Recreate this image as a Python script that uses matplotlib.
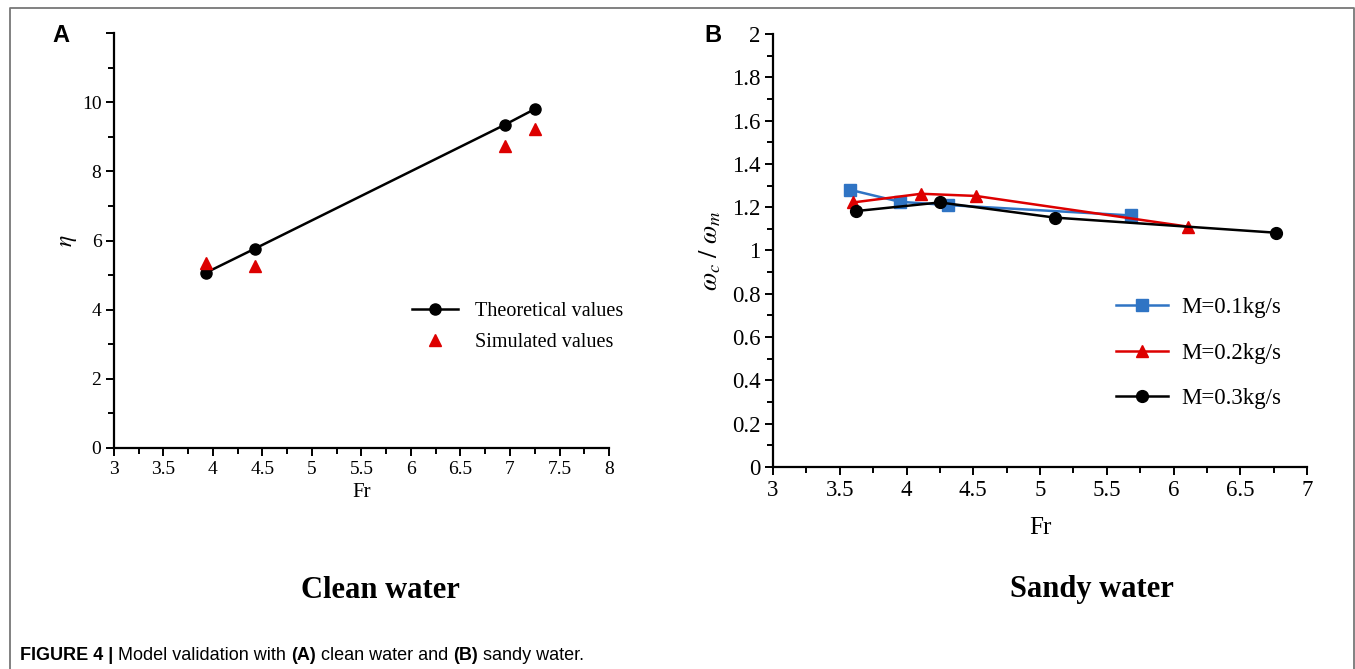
import matplotlib
matplotlib.use("Agg")
import matplotlib.pyplot as plt
from matplotlib.lines import Line2D
from matplotlib.ticker import MultipleLocator, FuncFormatter

# ---------------- data ----------------
fr_clean = [3.93, 4.42, 6.95, 7.25]
eta_theoretical = [5.07, 5.76, 9.35, 9.80]
eta_simulated = [5.34, 5.25, 8.73, 9.23]

fr_m01 = [3.58, 3.95, 4.31, 5.68]
ratio_m01 = [1.28, 1.225, 1.21, 1.162]
fr_m02 = [3.60, 4.11, 4.52, 6.11]
ratio_m02 = [1.222, 1.262, 1.252, 1.11]
fr_m03 = [3.62, 4.25, 5.11, 6.77]
ratio_m03 = [1.182, 1.222, 1.152, 1.082]

labels_a = ["Theoretical values", "Simulated values"]
labels_b = ["M=0.1kg/s", "M=0.2kg/s", "M=0.3kg/s"]

W, H = 1355, 669
plt.rcParams['mathtext.fontset'] = 'stix'
serif = 'Liberation Serif'
fig = plt.figure(figsize=(W / 100, H / 100), dpi=100)

def ax_rect(x0, x1, y_top, y_bot):
    return [x0 / W, 1 - y_bot / H, (x1 - x0) / W, (y_bot - y_top) / H]

BLUE = '#2f74c4'
RED = '#dd0000'

def style_axes(ax, fs):
    for s in ['top', 'right']:
        ax.spines[s].set_visible(False)
    for s in ['left', 'bottom']:
        ax.spines[s].set_linewidth(1.6)
    ax.tick_params(which='major', direction='out', length=6, width=1.4, labelsize=fs, pad=3)
    ax.tick_params(which='minor', direction='out', length=4, width=1.4)
    for lab in ax.get_xticklabels() + ax.get_yticklabels():
        lab.set_fontfamily(serif)

def num_fmt(v, pos):
    s = ('%.1f' % v).rstrip('0').rstrip('.')
    return s

# ---------------- panel A ----------------
axA = fig.add_axes(ax_rect(114, 609, 33, 448))
axA.plot(fr_clean, eta_theoretical, color='black', lw=1.8, marker='o', ms=8, zorder=3)
axA.plot(fr_clean, eta_simulated, ls='none', marker='^', color=RED, ms=9, zorder=4)
axA.set_xlim(3, 8)
axA.set_ylim(0, 12)
axA.xaxis.set_major_locator(MultipleLocator(0.5))
axA.xaxis.set_minor_locator(MultipleLocator(0.25))
axA.yaxis.set_major_locator(MultipleLocator(2))
axA.yaxis.set_minor_locator(MultipleLocator(1))
axA.xaxis.set_major_formatter(FuncFormatter(num_fmt))
axA.yaxis.set_major_formatter(FuncFormatter(lambda v, p: '' if v > 10 else num_fmt(v, p)))
style_axes(axA, 14)
axA.set_xlabel('Fr', fontfamily=serif, fontsize=15, labelpad=4)
axA.set_ylabel(r'$\eta$', fontsize=17, labelpad=2)

hA = [Line2D([], [], color='black', lw=1.8, marker='o', ms=8),
      Line2D([], [], ls='none', color=RED, marker='^', ms=9)]
legA = axA.legend(hA, labels_a, loc='center left', bbox_to_anchor=(394 / W, 1 - 327 / H),
                  bbox_transform=fig.transFigure, frameon=False, handlelength=2.3,
                  labelspacing=0.6, handletextpad=0.8, prop={'family': serif, 'size': 14.5})

# ---------------- panel B ----------------
axB = fig.add_axes(ax_rect(773, 1307, 34, 467))
axB.plot(fr_m01, ratio_m01, color=BLUE, lw=1.8, marker='s', ms=8, zorder=3)
axB.plot(fr_m02, ratio_m02, color=RED, lw=1.8, marker='^', ms=9, zorder=4)
axB.plot(fr_m03, ratio_m03, color='black', lw=1.8, marker='o', ms=8.5, zorder=5)
axB.set_xlim(3, 7)
axB.set_ylim(0, 2)
axB.xaxis.set_major_locator(MultipleLocator(0.5))
axB.xaxis.set_minor_locator(MultipleLocator(0.25))
axB.yaxis.set_major_locator(MultipleLocator(0.2))
axB.yaxis.set_minor_locator(MultipleLocator(0.1))
axB.xaxis.set_major_formatter(FuncFormatter(num_fmt))
axB.yaxis.set_major_formatter(FuncFormatter(num_fmt))
style_axes(axB, 16.5)
axB.set_xlabel('Fr', fontfamily=serif, fontsize=18, labelpad=12)
axB.set_ylabel(r'$\omega_c\ /\ \omega_m$', fontsize=19, labelpad=6)

hB = [Line2D([], [], color=BLUE, lw=1.8, marker='s', ms=8),
      Line2D([], [], color=RED, lw=1.8, marker='^', ms=9),
      Line2D([], [], color='black', lw=1.8, marker='o', ms=8.5)]
legB = axB.legend(hB, labels_b, loc='center left', bbox_to_anchor=(1095 / W, 1 - 353 / H),
                  bbox_transform=fig.transFigure, frameon=False, handlelength=2.3,
                  labelspacing=1.05, handletextpad=0.55, prop={'family': serif, 'size': 16.5})

# ---------------- texts ----------------
fig.text(61 / W, 1 - 36 / H, 'A', fontsize=17, fontweight='bold', fontfamily='Liberation Sans',
         ha='center', va='center')
fig.text(713 / W, 1 - 36 / H, 'B', fontsize=17, fontweight='bold', fontfamily='Liberation Sans',
         ha='center', va='center')
fig.text(380 / W, 1 - 590 / H, 'Clean water', fontsize=22, fontweight='bold', fontfamily=serif,
         ha='center', va='center')
fig.text(1092 / W, 1 - 590 / H, 'Sandy water', fontsize=22, fontweight='bold', fontfamily=serif,
         ha='center', va='center')

cap_y = 1 - 655 / H
t1 = fig.text(20 / W, cap_y, 'FIGURE 4 | ', fontsize=13, fontweight='bold',
              fontfamily='Liberation Sans', ha='left', va='center')
fig.canvas.draw()
r = fig.canvas.get_renderer()
parts = [('Model validation with ', 'normal'), ('(A)', 'bold'), (' clean water and ', 'normal'),
         ('(B)', 'bold'), (' sandy water.', 'normal')]
x = t1.get_window_extent(r).x1
for txt, wgt in parts:
    t = fig.text(x / W, cap_y, txt, fontsize=13, fontweight=wgt, fontfamily='Liberation Sans',
                 ha='left', va='center')
    x = t.get_window_extent(r).x1

# border (left, top, right)
border = Line2D([9.5 / W, 9.5 / W, 1353.5 / W, 1353.5 / W],
                [0, 1 - 7.5 / H, 1 - 7.5 / H, 0], transform=fig.transFigure,
                color='#777777', lw=1.3)
fig.add_artist(border)

fig.savefig('out.png', dpi=100)
